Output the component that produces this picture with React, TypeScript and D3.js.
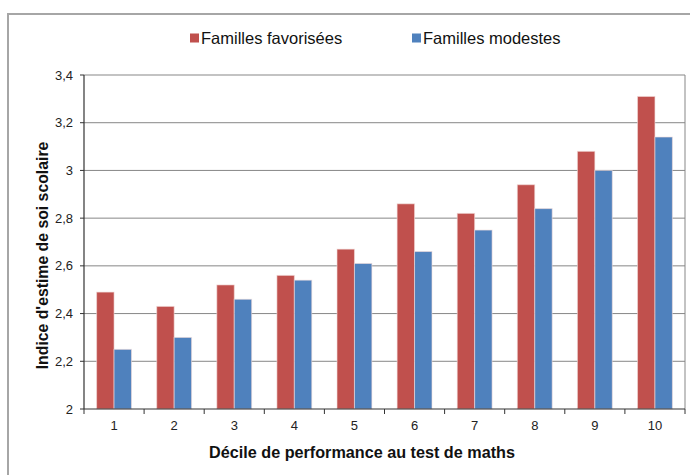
import React from "react";
import * as d3 from "d3";

const deciles = ["1", "2", "3", "4", "5", "6", "7", "8", "9", "10"];
const favorisees = [2.49, 2.43, 2.52, 2.56, 2.67, 2.86, 2.82, 2.94, 3.08, 3.31];
const modestes = [2.25, 2.3, 2.46, 2.54, 2.61, 2.66, 2.75, 2.84, 3.0, 3.14];
const seriesNames = ["Familles favorisées", "Familles modestes"];
const seriesColors = ["#C0504D", "#4F81BD"];
const yTicks = [2, 2.2, 2.4, 2.6, 2.8, 3, 3.2, 3.4];

const W = 690;
const H = 475;
const M = { left: 84, right: 685, top: 75, bottom: 409 };
const FONT = "'Liberation Sans', Arial, sans-serif";

export default function App() {
  const x = d3.scaleBand<string>().domain(deciles).range([M.left, M.right]).paddingInner(0).paddingOuter(0);
  const y = d3.scaleLinear().domain([2, 3.4]).range([M.bottom, M.top]);
  const bw = x.bandwidth();
  const barW = bw * 0.29;
  const fmt = (v: number) => d3.format("~g")(+v.toFixed(1)).replace(".", ",");
  const series = [favorisees, modestes];

  return (
    <svg width={W} height={H} style={{ position: "absolute", left: 0, top: 0, background: "#fff" }} fontFamily={FONT}>
      <rect x={8} y={14} width={W + 10} height={H + 10} fill="#fff" stroke="#a6a6a6" strokeWidth={2} />
      {/* gridlines */}
      {yTicks.slice(1).map((t) => (
        <line key={t} x1={M.left} x2={M.right} y1={y(t)} y2={y(t)} stroke="#878787" strokeWidth={1} />
      ))}
      <line x1={M.right} x2={M.right} y1={M.top} y2={M.bottom} stroke="#878787" strokeWidth={1} />
      {/* bars */}
      {deciles.map((d, i) => {
        const cx = x(d)! + bw / 2;
        return series.map((s, k) => (
          <rect
            key={d + k}
            x={cx - barW + k * barW}
            y={y(s[i])}
            width={barW}
            height={y(2) - y(s[i])}
            fill={seriesColors[k]}
            stroke="#f2dcdb"
            strokeOpacity={0.6}
            strokeWidth={1}
          />
        ));
      })}
      {/* y axis */}
      <line x1={M.left} x2={M.left} y1={M.top} y2={M.bottom} stroke="#333" strokeWidth={1.2} />
      {yTicks.map((t) => (
        <g key={t}>
          <line x1={M.left - 4} x2={M.left} y1={y(t)} y2={y(t)} stroke="#333" />
          <text x={M.left - 11} y={y(t) + 4.5} textAnchor="end" fontSize={13} fill="#222">
            {fmt(t)}
          </text>
        </g>
      ))}
      {/* x axis */}
      <line x1={M.left} x2={M.right} y1={M.bottom} y2={M.bottom} stroke="#333" strokeWidth={1.2} />
      {deciles.map((d) => (
        <line key={"t" + d} x1={x(d)!} x2={x(d)!} y1={M.bottom} y2={M.bottom + 5} stroke="#333" />
      ))}
      <line x1={M.right} x2={M.right} y1={M.bottom} y2={M.bottom + 5} stroke="#333" />
      {deciles.map((d) => (
        <text key={"l" + d} x={x(d)! + bw / 2} y={430} textAnchor="middle" fontSize={13} fill="#222">
          {d}
        </text>
      ))}
      <text x={362} y={458} textAnchor="middle" fontSize={16.2} fontWeight="bold" fill="#111">
        Décile de performance au test de maths
      </text>
      <text
        transform={`translate(48,255.5) rotate(-90)`}
        textAnchor="middle"
        fontSize={15.8}
        fontWeight="bold"
        fill="#111"
      >
        Indice d'estime de soi scolaire
      </text>
      {/* legend */}
      {seriesNames.map((n, k) => (
        <g key={n} transform={`translate(${[190, 412][k]},0)`}>
          <rect x={0} y={33.5} width={9} height={9} fill={seriesColors[k]} />
          <text x={11} y={44} fontSize={16.5} fill="#111">
            {n}
          </text>
        </g>
      ))}
    </svg>
  );
}
